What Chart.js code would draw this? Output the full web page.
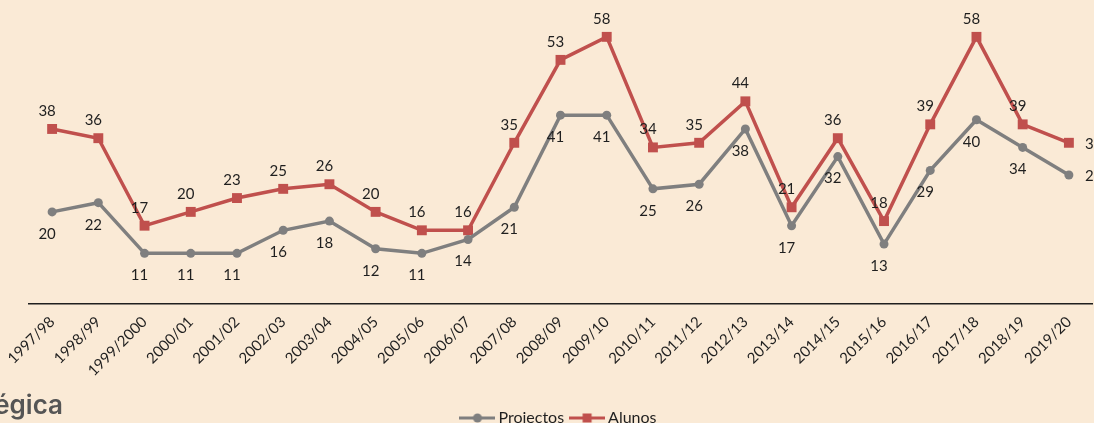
<!DOCTYPE html>
<html>
<head>
<meta charset="utf-8">
<script src="https://cdn.jsdelivr.net/npm/chart.js@4/dist/chart.umd.min.js"></script>
<style>
  html, body { margin:0; padding:0; background:#FAEAD6; overflow:hidden; width:1094px; height:423px; }
  #wrap { position:relative; width:1094px; height:436px; }
  #heading { position:absolute; right:1031px; top:390px; font-family:Inter, "Open Sans", sans-serif; font-weight:600; font-size:26px; color:#555555; white-space:nowrap; line-height:30px; }
</style>
</head>
<body>
<div id="wrap">
  <canvas id="c" width="1094" height="436"></canvas>
  <div id="heading">Estratégica</div>
</div>
<script>
const categories = ["1997/98","1998/99","1999/2000","2000/01","2001/02","2002/03","2003/04","2004/05","2005/06","2006/07","2007/08","2008/09","2009/10","2010/11","2011/12","2012/13","2013/14","2014/15","2015/16","2016/17","2017/18","2018/19","2019/20"];
const projectos = [20,22,11,11,11,16,18,12,11,14,21,41,41,25,26,38,17,32,13,29,40,34,28];
const alunos    = [38,36,17,20,23,25,26,20,16,16,35,53,58,34,35,44,21,36,18,39,58,39,35];
const seriesNames = ["Projectos","Alunos"];

const GRAY = '#7F7F7F';
const RED = '#C0504D';
const TEXT = '#1F1F1F';

const labelStyle = [
  { dx:-5, dy:22 },   // Projectos: below
  { dx:-5, dy:-18 }   // Alunos: above
];

function legendIcon(color, shape) {
  const c = document.createElement('canvas');
  c.width = 36; c.height = 12;
  const g = c.getContext('2d');
  g.strokeStyle = color; g.lineWidth = 3;
  g.beginPath(); g.moveTo(0, 6); g.lineTo(36, 6); g.stroke();
  g.fillStyle = color;
  if (shape === 'circle') { g.beginPath(); g.arc(18, 6, 4.5, 0, Math.PI * 2); g.fill(); }
  else { g.fillRect(13.5, 1.5, 9, 9); }
  return c;
}
const icons = [legendIcon(GRAY, 'circle'), legendIcon(RED, 'rect')];

const valueLabels = {
  id: 'valueLabels',
  afterDatasetsDraw(chart) {
    const ctx = chart.ctx;
    ctx.save();
    ctx.font = '15px Lato';
    ctx.fillStyle = TEXT;
    ctx.textBaseline = 'middle';
    chart.data.datasets.forEach((ds, di) => {
      const meta = chart.getDatasetMeta(di);
      const st = labelStyle[di];
      meta.data.forEach((pt, i) => {
        const last = i === meta.data.length - 1;
        if (last) {
          ctx.textAlign = 'left';
          ctx.fillText(String(ds.data[i]), pt.x + 16, pt.y + 1);
        } else {
          ctx.textAlign = 'center';
          ctx.fillText(String(ds.data[i]), pt.x + st.dx, pt.y + st.dy);
        }
      });
    });
    ctx.restore();
  }
};

new Chart(document.getElementById('c'), {
  type: 'line',
  data: {
    labels: categories,
    datasets: [
      {
        label: seriesNames[0], data: projectos,
        borderColor: GRAY, backgroundColor: GRAY, borderWidth: 3.5,
        pointStyle: 'circle', pointRadius: 4.5, pointBorderWidth: 0,
        pointBackgroundColor: GRAY, tension: 0, clip: false
      },
      {
        label: seriesNames[1], data: alunos,
        borderColor: RED, backgroundColor: RED, borderWidth: 3.5,
        pointStyle: 'rect', pointRadius: 7, pointBorderWidth: 0,
        pointBackgroundColor: RED, tension: 0, clip: false
      }
    ]
  },
  options: {
    responsive: false,
    animation: false,
    events: [],
    layout: { autoPadding: false, padding: { left: 29, right: 2, top: 0, bottom: 0 } },
    scales: {
      x: {
        offset: true,
        grid: { display: false, drawTicks: false },
        border: { display: true, color: '#1F1F1F', width: 1.5 },
        ticks: { autoSkip: false, maxRotation: 45, minRotation: 45, color: TEXT, font: { family: 'Lato', size: 15 }, padding: 9 },
        afterFit(s) { s.height = 96; s.paddingLeft = 0; s.paddingRight = 0; }
      },
      y: { display: false, min: 0, max: 66 }
    },
    plugins: {
      legend: {
        position: 'bottom',
        labels: {
          usePointStyle: true, pointStyleWidth: 26, padding: 10,
          color: TEXT, font: { family: 'Lato', size: 16 },
          generateLabels(chart) {
            return chart.data.datasets.map((ds, i) => ({
              text: ds.label, pointStyle: icons[i], fillStyle: ds.borderColor,
              strokeStyle: ds.borderColor, lineWidth: 0, hidden: false, datasetIndex: i, fontColor: TEXT
            }));
          }
        }
      },
      tooltip: { enabled: false }
    }
  },
  plugins: [valueLabels]
});
</script>
</body>
</html>
